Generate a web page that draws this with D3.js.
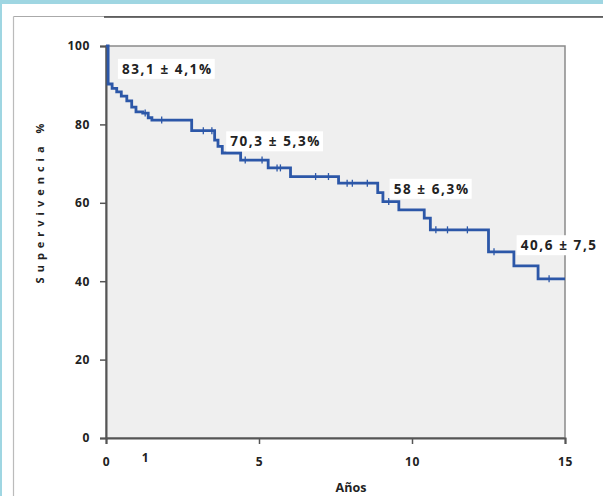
<!DOCTYPE html>
<html>
<head>
<meta charset="utf-8">
<script src="https://cdn.jsdelivr.net/npm/d3@7"></script>
<style>
  body { margin: 0; background: #ffffff; }
  svg { display: block; }
  .tick text { font-family: "Open Sans", "Liberation Sans", sans-serif; font-weight: 700; font-size: 12px; letter-spacing: 0.6px; fill: #222; }
  .note { font-family: "Open Sans", "Liberation Sans", sans-serif; font-weight: 700; font-size: 13.5px; letter-spacing: 1.6px; fill: #222; }
</style>
</head>
<body>
<svg id="chart" width="603" height="496"></svg>
<script>
// survival curve steps: time (years) where the value changes, survival %
let stepTimes = [0, 0.07, 0.2, 0.35, 0.5, 0.68, 0.84, 0.98, 1.2, 1.38, 1.5, 2.8, 3.55, 3.66, 3.8, 4.4, 5.3, 6.03, 7.6, 8.88, 9.05, 9.57, 10.4, 10.6, 12.5, 13.33, 14.12, 15]
let stepValues = [100, 90.3, 89.2, 88.3, 87.2, 86.0, 84.4, 83.2, 82.9, 81.7, 81.1, 78.4, 76.0, 74.4, 72.7, 70.9, 68.9, 66.7, 65.0, 62.6, 60.3, 58.2, 56.1, 53.1, 47.5, 43.9, 40.6, 40.6]

// censored observations (years)
let censorTimes = [1.28, 1.82, 3.18, 3.46, 4.55, 5.1, 5.59, 5.7, 6.85, 7.27, 7.88, 8.05, 8.54, 9.24, 10.78, 11.16, 11.81, 12.68, 14.48]

// annotations: text and anchor (years, %)
let noteTexts = ['83,1 \u00b1 4,1%', '70,3 \u00b1 5,3%', '58 \u00b1 6,3%', '40,6 \u00b1 7,5']
let noteTimes = [0.52, 4.06, 9.4, 13.55]
let noteValues = [92.9, 74.4, 62.3, 47.9]

let xTicks = [0, 5, 10, 15]
let yTicks = [0, 20, 40, 60, 80, 100]

let svg = d3.select('#chart')

// page frame
svg.append('rect').attr('x', 0).attr('y', 0).attr('width', 603).attr('height', 4).attr('fill', '#9fd6e2')
svg.append('rect').attr('x', 0).attr('y', 0).attr('width', 2).attr('height', 496).attr('fill', '#9fd6e2')
svg.append('line').attr('x1', 13.5).attr('x2', 603).attr('y1', 16.5).attr('y2', 16.5).attr('stroke', '#aaa').attr('stroke-width', 1)
svg.append('line').attr('x1', 104).attr('x2', 603).attr('y1', 17).attr('y2', 17).attr('stroke', '#444').attr('stroke-width', 1.5)
svg.append('line').attr('x1', 13.5).attr('x2', 13.5).attr('y1', 16.5).attr('y2', 496).attr('stroke', '#bbb').attr('stroke-width', 1.2)

let x0 = 106, x1 = 565, yTop = 46, yBottom = 438
let xScale = d3.scaleLinear().domain([0, 15]).range([x0, x1])
let yScale = d3.scaleLinear().domain([0, 100]).range([yBottom, yTop])

// plot area
svg.append('rect').attr('x', x0).attr('y', yTop).attr('width', x1 - x0).attr('height', yBottom - yTop)
   .attr('fill', '#efefef').attr('stroke', '#8a8a8a').attr('stroke-width', 1.5)

let yAxis = d3.axisLeft(yScale).tickValues(yTicks).tickSize(6).tickPadding(10)
let gy = svg.append('g').attr('transform', 'translate(' + x0 + ',0)').call(yAxis)
gy.select('.domain').attr('stroke', '#555').attr('stroke-width', 2)
gy.selectAll('.tick line').attr('stroke', '#555').attr('stroke-width', 1.5)

let xAxis = d3.axisBottom(xScale).tickValues(xTicks).tickSize(6).tickPadding(13)
let gx = svg.append('g').attr('transform', 'translate(0,' + yBottom + ')').call(xAxis)
gx.select('.domain').attr('stroke', '#555').attr('stroke-width', 2)
gx.selectAll('.tick line').attr('stroke', '#555').attr('stroke-width', 1.5)

// stray "1" label under the axis
svg.append('text').text('1').attr('x', xScale(1.28)).attr('y', 462)
   .attr('text-anchor', 'middle')
   .style('font-family', '"Open Sans", "Liberation Sans", sans-serif').style('font-weight', 700)
   .style('font-size', '12px').style('fill', '#222')

// survival step line
let points = stepTimes.map((t, i) => ({ t: t, s: stepValues[i] }))
let line = d3.line().x(d => xScale(d.t)).y(d => yScale(d.s)).curve(d3.curveStepAfter)
svg.append('path').datum(points).attr('d', line)
   .attr('fill', 'none').attr('stroke', '#2c57a8').attr('stroke-width', 2.8)

// censor marks
let valueAt = t => {
    let v = stepValues[0]
    for (let i = 0; i < stepTimes.length; i++) {
        if (stepTimes[i] <= t) v = stepValues[i]
    }
    return v
}
svg.append('g').selectAll('line').data(censorTimes).join('line')
   .attr('x1', d => xScale(d)).attr('x2', d => xScale(d))
   .attr('y1', d => yScale(valueAt(d)) - 3.5).attr('y2', d => yScale(valueAt(d)) + 3.5)
   .attr('stroke', '#2c57a8').attr('stroke-width', 1.3)

// annotations with white boxes
let notes = svg.append('g').selectAll('g').data(noteTexts).join('g')
notes.append('text').attr('class', 'note')
   .attr('x', (d, i) => xScale(noteTimes[i])).attr('y', (d, i) => yScale(noteValues[i]))
   .text(d => d)
notes.each(function () {
    let g = d3.select(this)
    let bb = g.select('text').node().getBBox()
    g.insert('rect', 'text').attr('x', bb.x - 4).attr('y', bb.y - 1)
     .attr('width', bb.width + 6).attr('height', bb.height + 2).attr('fill', '#fff')
})

// axis titles
svg.append('text').text('Supervivencia  %')
   .attr('transform', 'translate(44,201) rotate(-90)').attr('text-anchor', 'middle')
   .style('font-family', '"Open Sans", "Liberation Sans", sans-serif').style('font-weight', 700)
   .style('font-size', '11px').style('letter-spacing', '5px').style('fill', '#222')

svg.append('text').text('A\u00f1os').attr('x', 351).attr('y', 492).attr('text-anchor', 'middle')
   .style('font-family', '"Open Sans", "Liberation Sans", sans-serif').style('font-weight', 700)
   .style('font-size', '12.5px').style('fill', '#222')
</script>
</body>
</html>
